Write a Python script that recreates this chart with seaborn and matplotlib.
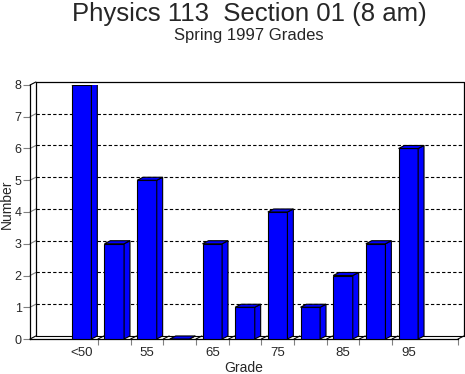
import numpy as np
import matplotlib
matplotlib.use('Agg')
import matplotlib.pyplot as plt
from matplotlib.patches import Polygon
import seaborn as sns
import pandas as pd

# grade histogram
grades = ["<50", "50", "55", "60", "65", "70", "75", "80", "85", "90", "95"]
counts = [8, 3, 5, 0, 3, 1, 4, 1, 2, 3, 6]
shown_labels = ["<50", "", "55", "", "65", "", "75", "", "85", "", "95"]
y_ticks = [0, 1, 2, 3, 4, 5, 6, 7, 8]

sns.set_style("white")
plt.rcParams['font.family'] = ['Liberation Sans', 'DejaVu Sans']

df = pd.DataFrame({'grade': grades, 'count': counts})

fig = plt.figure(figsize=(4.65, 3.74), dpi=100)
ax = fig.add_axes([30 / 465, 35 / 374, 428 / 465, 254 / 374])

sns.barplot(data=df, x='grade', y='count', color='#0000ff', saturation=1,
            width=0.6, edgecolor='black', linewidth=0.8, ax=ax, zorder=3)

xmin, xmax = -1.58, 11.52
ymax = 8
ax.set_xlim(xmin, xmax)
ax.set_ylim(0, ymax)

# depth of the fake 3d effect, in data units
dx = 0.18
dy = 0.095

# side + top faces of the bars
for p in ax.patches:
    x0 = p.get_x()
    w = p.get_width()
    h = p.get_height()
    side = Polygon([(x0 + w, 0), (x0 + w + dx, dy), (x0 + w + dx, h + dy), (x0 + w, h)],
                   closed=True, facecolor='#0000ff', edgecolor='black', lw=0.8, zorder=3)
    top = Polygon([(x0, h), (x0 + dx, h + dy), (x0 + w + dx, h + dy), (x0 + w, h)],
                  closed=True, facecolor='#0000ff', edgecolor='black', lw=0.8, zorder=3)
    ax.add_patch(side)
    ax.add_patch(top)

# back wall grid lines
for v in y_ticks[1:-1]:
    ax.plot([xmin + dx, xmax + dx], [v + dy, v + dy], color='black', lw=0.8,
            ls=(0, (3, 2)), zorder=1, clip_on=False)
    ax.plot([xmin, xmin + dx], [v, v + dy], color='gray', lw=0.8, zorder=1, clip_on=False)

# back wall frame
ax.plot([xmin + dx, xmin + dx, xmax + dx, xmax + dx],
        [dy, ymax + dy, ymax + dy, dy], color='black', lw=0.9, zorder=1, clip_on=False)
ax.plot([xmin + dx, xmax + dx], [dy, dy], color='black', lw=0.8, zorder=1, clip_on=False)
ax.plot([xmax, xmax + dx], [0, dy], color='black', lw=0.8, zorder=1, clip_on=False)
ax.plot([xmin, xmin + dx], [ymax, ymax + dy], color='black', lw=0.8, zorder=1, clip_on=False)
ax.plot([xmin, xmin + dx], [0, dy], color='black', lw=0.8, zorder=1, clip_on=False)

# floor stubs at slot boundaries
bounds = np.arange(0.5, len(grades) - 0.5, 1.0)
for b in bounds:
    ax.plot([b, b + dx], [0, dy], color='black', lw=0.8, zorder=2, clip_on=False)

for s in ['top', 'right']:
    ax.spines[s].set_visible(False)
for s in ['left', 'bottom']:
    ax.spines[s].set_color('black')
    ax.spines[s].set_linewidth(0.9)

ax.set_yticks(y_ticks)
ax.tick_params(axis='y', length=5, width=0.8, color='gray', labelsize=9, pad=1, left=True)
ax.set_xticks(range(len(grades)))
ax.set_xticklabels(shown_labels)
ax.set_xticks(list(bounds) + [xmax], minor=True)
ax.tick_params(axis='x', which='major', length=0, labelsize=9.5, pad=6)
ax.tick_params(axis='x', which='minor', length=4, width=0.8, color='gray', bottom=True)

ax.set_xlabel('Grade', fontsize=10, labelpad=1)
ax.set_ylabel('Number', fontsize=10, va='center')
ax.yaxis.set_label_coords(-0.053, 0.53)

fig.text(249 / 465, 1 - 21 / 374, 'Physics 113  Section 01 (8 am)', ha='center',
         va='baseline', fontsize=18.5)
fig.text(249 / 465, 1 - 40 / 374, 'Spring 1997 Grades', ha='center',
         va='baseline', fontsize=12)

fig.savefig('out.png', dpi=100)
